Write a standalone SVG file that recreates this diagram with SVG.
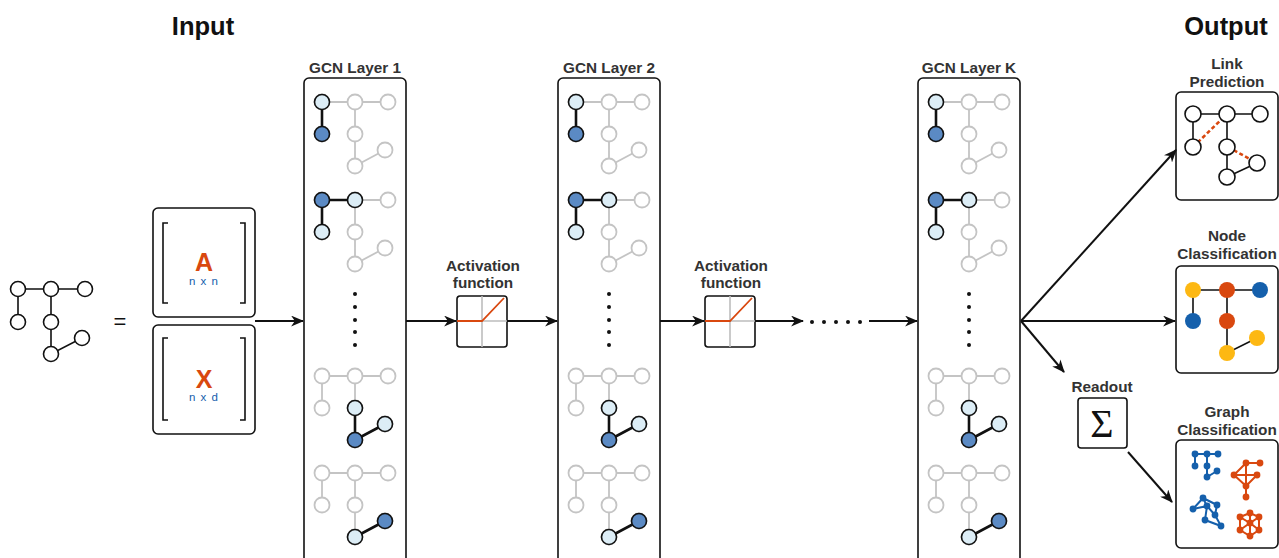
<svg xmlns="http://www.w3.org/2000/svg" xmlns:xlink="http://www.w3.org/1999/xlink" width="1279" height="558" viewBox="0 0 1279 558">
<style>
.title{font-family:"Liberation Sans",Arial,sans-serif;font-weight:bold;font-size:25.5px;fill:#111;text-anchor:middle}
.lbl{font-family:"Liberation Sans",Arial,sans-serif;font-weight:bold;font-size:15.3px;fill:#333;text-anchor:middle}
.box{fill:#fff;stroke:#111;stroke-width:1.6}
.gE{stroke:#c4c4c4;stroke-width:1.8;fill:none}
.gN{fill:#fff;stroke:#c4c4c4;stroke-width:1.8}
.bE{stroke:#111;stroke-width:2.6;fill:none}
.lN{fill:#dcedf6;stroke:#111;stroke-width:1.6}
.dN{fill:#5b8ac4;stroke:#111;stroke-width:1.6}
.wN{fill:#fff;stroke:#111;stroke-width:1.6}
.kE{stroke:#111;stroke-width:1.6;fill:none}
.conn{stroke:#111;stroke-width:2;fill:none;marker-end:url(#arr)}
.dot{fill:#111}
.bl{fill:#1560ac}
.or{fill:#d9480f}
.ye{fill:#fdb813}
.blE{stroke:#1560ac;stroke-width:2;fill:none}
.orE{stroke:#d9480f;stroke-width:2;fill:none}
</style>
<defs>
<marker id="arr" viewBox="0 0 12 10" refX="11" refY="5" markerWidth="13" markerHeight="11" markerUnits="userSpaceOnUse" orient="auto">
<path d="M0,0 L12,5 L0,10 L3.5,5 z" fill="#111"/>
</marker>
<g id="grayTree">
<path class="gE" d="M0,0 H66 M0,0 V32 M33,0 V64 L63,48"/>
<circle class="gN" cx="0" cy="0" r="7.5"/>
<circle class="gN" cx="33" cy="0" r="7.5"/>
<circle class="gN" cx="66" cy="0" r="7.5"/>
<circle class="gN" cx="0" cy="32" r="7.5"/>
<circle class="gN" cx="33" cy="32" r="7.5"/>
<circle class="gN" cx="63" cy="48" r="7.5"/>
<circle class="gN" cx="33" cy="64" r="7.5"/>
</g>
<g id="sub1">
<use xlink:href="#grayTree"/>
<path class="bE" d="M0,0 V32"/>
<circle class="lN" cx="0" cy="0" r="7.5"/>
<circle class="dN" cx="0" cy="32" r="7.5"/>
</g>
<g id="sub2">
<use xlink:href="#grayTree"/>
<path class="bE" d="M33,0 H0 V32"/>
<circle class="dN" cx="0" cy="0" r="7.5"/>
<circle class="lN" cx="33" cy="0" r="7.5"/>
<circle class="lN" cx="0" cy="32" r="7.5"/>
</g>
<g id="sub3">
<use xlink:href="#grayTree"/>
<path class="bE" d="M33,32 V64 L63,48"/>
<circle class="lN" cx="33" cy="32" r="7.5"/>
<circle class="dN" cx="33" cy="64" r="7.5"/>
<circle class="lN" cx="63" cy="48" r="7.5"/>
</g>
<g id="sub4">
<use xlink:href="#grayTree"/>
<path class="bE" d="M33,64 L63,48"/>
<circle class="lN" cx="33" cy="64" r="7.5"/>
<circle class="dN" cx="63" cy="48" r="7.5"/>
</g>
<g id="layerTpl">
<rect class="box" x="304" y="78" width="102" height="500" rx="5"/>
<use xlink:href="#sub1" x="322" y="102"/>
<use xlink:href="#sub2" x="322" y="200"/>
<circle class="dot" cx="355" cy="294" r="2"/>
<circle class="dot" cx="355" cy="307" r="2"/>
<circle class="dot" cx="355" cy="320" r="2"/>
<circle class="dot" cx="355" cy="332" r="2"/>
<circle class="dot" cx="355" cy="345" r="2"/>
<use xlink:href="#sub3" x="322" y="376"/>
<use xlink:href="#sub4" x="322" y="473"/>
</g>
<g id="actTpl">
<rect class="box" x="0" y="0" width="50" height="51" rx="3"/>
<path d="M25,0 V51 M0,25 H50" stroke="#bdbdbd" stroke-width="1.6"/>
<path d="M0,25 H25 L47,2" stroke="#d9480f" stroke-width="1.8" fill="none"/>
</g>
</defs>
<rect width="1279" height="558" fill="#fff"/>

<text class="title" x="203" y="35">Input</text>
<text class="title" x="1226" y="35">Output</text>

<g id="input-graph">
<path class="kE" d="M18,289 H85 M18,289 V322 M51,289 V354 L82,338"/>
<circle class="wN" cx="18" cy="289" r="7.5"/>
<circle class="wN" cx="51" cy="289" r="7.5"/>
<circle class="wN" cx="85" cy="289" r="7.5"/>
<circle class="wN" cx="18" cy="322" r="7.5"/>
<circle class="wN" cx="51" cy="322" r="7.5"/>
<circle class="wN" cx="82" cy="338" r="7.5"/>
<circle class="wN" cx="51" cy="354" r="7.5"/>
</g>
<text x="120" y="329" font-family="Liberation Sans,Arial,sans-serif" font-size="22" fill="#111" text-anchor="middle">=</text>

<g id="matrix-A">
<rect class="box" x="153" y="208" width="102" height="109" rx="5"/>
<path d="M168,223 H163 V303 H168 M240,223 H245 V303 H240" stroke="#111" stroke-width="1.6" fill="none"/>
<text x="204" y="271" font-family="Liberation Sans,Arial,sans-serif" font-weight="bold" font-size="25" fill="#d9480f" text-anchor="middle">A</text>
<text x="204" y="285" font-family="Liberation Sans,Arial,sans-serif" font-size="11.5" fill="#1560ac" text-anchor="middle" letter-spacing="1">n x n</text>
</g>
<g id="matrix-X">
<rect class="box" x="153" y="325" width="102" height="109" rx="5"/>
<path d="M168,338 H163 V420 H168 M240,338 H245 V420 H240" stroke="#111" stroke-width="1.6" fill="none"/>
<text x="204" y="388" font-family="Liberation Sans,Arial,sans-serif" font-weight="bold" font-size="25" fill="#d9480f" text-anchor="middle">X</text>
<text x="204" y="401" font-family="Liberation Sans,Arial,sans-serif" font-size="11.5" fill="#1560ac" text-anchor="middle" letter-spacing="1">n x d</text>
</g>

<g id="gcn-layer-1">
<text class="lbl" x="355" y="73">GCN Layer 1</text>
<use xlink:href="#layerTpl"/>
</g>
<g id="gcn-layer-2">
<text class="lbl" x="609" y="73">GCN Layer 2</text>
<use xlink:href="#layerTpl" x="254"/>
</g>
<g id="gcn-layer-k">
<text class="lbl" x="969" y="73">GCN Layer K</text>
<use xlink:href="#layerTpl" x="614"/>
</g>

<g id="activation-1">
<text class="lbl" x="483" y="271">Activation</text>
<text class="lbl" x="483" y="288">function</text>
<use xlink:href="#actTpl" x="457" y="296"/>
</g>
<g id="activation-2">
<text class="lbl" x="731" y="271">Activation</text>
<text class="lbl" x="731" y="288">function</text>
<use xlink:href="#actTpl" x="705" y="296"/>
</g>

<g id="ellipsis">
<circle class="dot" cx="812" cy="322" r="2"/>
<circle class="dot" cx="824" cy="322" r="2"/>
<circle class="dot" cx="836" cy="322" r="2"/>
<circle class="dot" cx="848" cy="322" r="2"/>
<circle class="dot" cx="860" cy="322" r="2"/>
</g>

<g id="readout">
<text class="lbl" x="1102" y="392">Readout</text>
<rect class="box" x="1078" y="398" width="49" height="50" rx="3"/>
<text x="1102" y="437" font-family="Liberation Serif,Times New Roman,serif" font-size="40" fill="#111" text-anchor="middle">Σ</text>
</g>

<g id="link-prediction">
<text class="lbl" x="1227" y="69">Link</text>
<text class="lbl" x="1227" y="87">Prediction</text>
<rect class="box" x="1176" y="92" width="102" height="108" rx="5"/>
<path class="kE" d="M1193,114 H1260 M1193,114 V147 M1227,114 V177 L1257,163"/>
<path d="M1193,147 L1227,114 M1228,147 L1257,163" stroke="#d9480f" stroke-width="2.6" stroke-dasharray="4,2.5" fill="none"/>
<circle class="wN" cx="1193" cy="114" r="8"/>
<circle class="wN" cx="1227" cy="114" r="8"/>
<circle class="wN" cx="1260" cy="114" r="8"/>
<circle class="wN" cx="1193" cy="147" r="8"/>
<circle class="wN" cx="1227" cy="147" r="8"/>
<circle class="wN" cx="1257" cy="163" r="8"/>
<circle class="wN" cx="1227" cy="177" r="8"/>
</g>

<g id="node-classification">
<text class="lbl" x="1227" y="241">Node</text>
<text class="lbl" x="1227" y="259">Classification</text>
<rect class="box" x="1176" y="266" width="102" height="107" rx="5"/>
<path class="kE" d="M1193,290 H1260 M1193,290 V321 M1227,290 V353 L1257,338"/>
<circle class="ye" cx="1193" cy="290" r="8"/>
<circle class="or" cx="1227" cy="290" r="8"/>
<circle class="bl" cx="1260" cy="290" r="8"/>
<circle class="bl" cx="1193" cy="321" r="8"/>
<circle class="or" cx="1227" cy="321" r="8"/>
<circle class="ye" cx="1257" cy="338" r="8"/>
<circle class="ye" cx="1227" cy="353" r="8"/>
</g>

<g id="graph-classification">
<text class="lbl" x="1227" y="417">Graph</text>
<text class="lbl" x="1227" y="435">Classification</text>
<rect class="box" x="1176" y="440" width="102" height="108" rx="5"/>
<g id="gc-blue-1">
<path class="blE" d="M1195,454 H1218 M1195,454 V466 M1207,454 V477 L1217,471"/>
<circle class="bl" cx="1195" cy="454" r="3.4"/><circle class="bl" cx="1207" cy="454" r="3.4"/><circle class="bl" cx="1218" cy="454" r="3.4"/>
<circle class="bl" cx="1195" cy="466" r="3.4"/><circle class="bl" cx="1207" cy="466" r="3.4"/><circle class="bl" cx="1217" cy="471" r="3.4"/><circle class="bl" cx="1207" cy="477" r="3.4"/>
</g>
<g id="gc-orange-1">
<path class="orE" d="M1246,463 H1260 M1246,463 L1234,475 M1246,463 L1246,486 M1234,475 L1257,475 M1257,475 L1246,486 M1234,475 L1246,486 M1246,486 V497"/>
<circle class="or" cx="1246" cy="463" r="3.4"/><circle class="or" cx="1260" cy="463" r="3.4"/><circle class="or" cx="1234" cy="475" r="3.4"/>
<circle class="or" cx="1257" cy="475" r="3.4"/><circle class="or" cx="1246" cy="486" r="3.4"/><circle class="or" cx="1246" cy="497" r="3.4"/>
</g>
<g id="gc-blue-2">
<path class="blE" d="M1203,498 L1193,509 L1207,506 Z M1203,498 L1217,505 M1207,506 L1205,520 L1221,526 L1215,515 L1217,505 M1207,506 L1215,515"/>
<circle class="bl" cx="1203" cy="498" r="3.4"/><circle class="bl" cx="1193" cy="509" r="3.4"/><circle class="bl" cx="1207" cy="506" r="3.4"/>
<circle class="bl" cx="1217" cy="505" r="3.4"/><circle class="bl" cx="1215" cy="515" r="3.4"/><circle class="bl" cx="1205" cy="520" r="3.4"/><circle class="bl" cx="1221" cy="526" r="3.4"/>
</g>
<g id="gc-orange-2">
<path class="orE" d="M1250,513 L1240,517 L1250,523 L1259,517 Z M1250,513 V536 M1240,517 L1240,530 L1250,536 L1259,530 L1259,517 M1240,530 L1250,523 L1259,530"/>
<circle class="or" cx="1250" cy="513" r="3.4"/><circle class="or" cx="1240" cy="517" r="3.4"/><circle class="or" cx="1259" cy="517" r="3.4"/>
<circle class="or" cx="1250" cy="523" r="3.4"/><circle class="or" cx="1240" cy="530" r="3.4"/><circle class="or" cx="1259" cy="530" r="3.4"/><circle class="or" cx="1250" cy="536" r="3.4"/>
</g>
</g>

<g id="connectors">
<path class="conn" d="M255,321 H303"/>
<path class="conn" d="M406,321 H456"/>
<path class="conn" d="M507,321 H557"/>
<path class="conn" d="M660,321 H704"/>
<path class="conn" d="M755,321 H803"/>
<path class="conn" d="M869,321 H917"/>
<path class="conn" d="M1021,321 L1176,150"/>
<path class="conn" d="M1021,321 H1175"/>
<path class="conn" d="M1021,321 L1064,372"/>
<path class="conn" d="M1128,452 L1172,502"/>
</g>
</svg>
